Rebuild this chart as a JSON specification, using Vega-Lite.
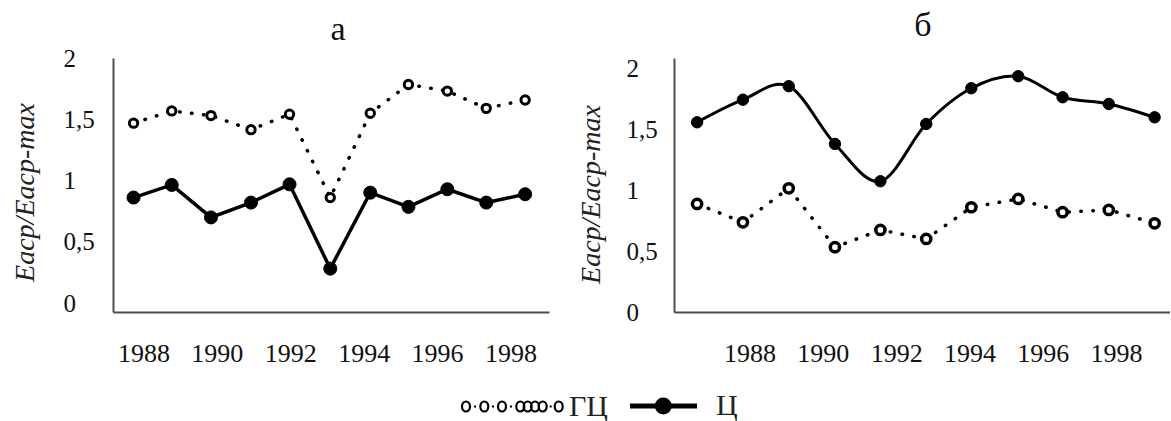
{
  "$schema": "https://vega.github.io/schema/vega-lite/v6.json",
  "padding": {"left": 11, "top": 8, "right": 0, "bottom": 0},
  "background": "white",
  "datasets": {
    "a": [
      {"series": "ГЦ", "year": 1987.73, "value": 1.468},
      {"series": "ГЦ", "year": 1988.77, "value": 1.568},
      {"series": "ГЦ", "year": 1989.84, "value": 1.530},
      {"series": "ГЦ", "year": 1990.93, "value": 1.415},
      {"series": "ГЦ", "year": 1991.98, "value": 1.541},
      {"series": "ГЦ", "year": 1993.09, "value": 0.861},
      {"series": "ГЦ", "year": 1994.18, "value": 1.549},
      {"series": "ГЦ", "year": 1995.22, "value": 1.784},
      {"series": "ГЦ", "year": 1996.28, "value": 1.730},
      {"series": "ГЦ", "year": 1997.34, "value": 1.589},
      {"series": "ГЦ", "year": 1998.40, "value": 1.657},
      {"series": "Ц", "year": 1987.73, "value": 0.861},
      {"series": "Ц", "year": 1988.77, "value": 0.964},
      {"series": "Ц", "year": 1989.84, "value": 0.699},
      {"series": "Ц", "year": 1990.93, "value": 0.820},
      {"series": "Ц", "year": 1991.98, "value": 0.969},
      {"series": "Ц", "year": 1993.09, "value": 0.281},
      {"series": "Ц", "year": 1994.18, "value": 0.901},
      {"series": "Ц", "year": 1995.22, "value": 0.785},
      {"series": "Ц", "year": 1996.28, "value": 0.929},
      {"series": "Ц", "year": 1997.34, "value": 0.820},
      {"series": "Ц", "year": 1998.40, "value": 0.888}
    ],
    "b": [
      {"series": "ГЦ", "year": 1986.57, "value": 0.889},
      {"series": "ГЦ", "year": 1987.82, "value": 0.738},
      {"series": "ГЦ", "year": 1989.07, "value": 1.018},
      {"series": "ГЦ", "year": 1990.33, "value": 0.533},
      {"series": "ГЦ", "year": 1991.57, "value": 0.675},
      {"series": "ГЦ", "year": 1992.82, "value": 0.601},
      {"series": "ГЦ", "year": 1994.05, "value": 0.862},
      {"series": "ГЦ", "year": 1995.33, "value": 0.930},
      {"series": "ГЦ", "year": 1996.54, "value": 0.821},
      {"series": "ГЦ", "year": 1997.80, "value": 0.840},
      {"series": "ГЦ", "year": 1999.05, "value": 0.730},
      {"series": "Ц", "year": 1986.57, "value": 1.561},
      {"series": "Ц", "year": 1987.82, "value": 1.747},
      {"series": "Ц", "year": 1989.07, "value": 1.858},
      {"series": "Ц", "year": 1990.33, "value": 1.383},
      {"series": "Ц", "year": 1991.57, "value": 1.076},
      {"series": "Ц", "year": 1992.82, "value": 1.547},
      {"series": "Ц", "year": 1994.05, "value": 1.841},
      {"series": "Ц", "year": 1995.33, "value": 1.940},
      {"series": "Ц", "year": 1996.54, "value": 1.767},
      {"series": "Ц", "year": 1997.80, "value": 1.712},
      {"series": "Ц", "year": 1999.05, "value": 1.602}
    ]
  },
  "spacing": 28,
  "hconcat": [
    {
      "width": 436,
      "height": 254,
      "title": {"text": "а", "font": "Times New Roman, Liberation Serif, serif", "fontSize": 34, "fontWeight": "normal", "color": "#111", "offset": -1, "dx": 7},
      "data": {"name": "a"},
      "encoding": {
        "x": {"field": "year", "type": "quantitative", "scale": {"domain": [1987.17, 1999.05], "nice": false, "zero": false},
              "axis": {"title": null, "values": [1988, 1990, 1992, 1994, 1996, 1998], "format": "d", "labelFontSize": 26, "labelPadding": 41, "labelBaseline": "middle"}},
        "y": {"field": "value", "type": "quantitative", "scale": {"domain": [-0.073, 2.0], "nice": false, "zero": false},
              "axis": {"title": "Eaср/Eaср-max", "values": [0, 0.5, 1, 1.5, 2], "labelExpr": "replace(toString(datum.value), '.', ',')", "labelAlign": "left", "labelBaseline": "middle", "labelPadding": 50, "labelFontSize": 25, "titlePadding": 24, "titleY": 134}}
      },
      "layer": [
        {"transform": [{"filter": "datum.series === 'ГЦ'"}], "mark": {"type": "line", "stroke": "black", "strokeWidth": 3.5, "strokeDash": [0.5, 11.5], "strokeCap": "round"}},
        {"transform": [{"filter": "datum.series === 'Ц'"}], "mark": {"type": "line", "stroke": "black", "strokeWidth": 3.5}},
        {"transform": [{"filter": "datum.series === 'ГЦ'"}], "mark": {"type": "circle", "size": 70, "stroke": "black", "strokeWidth": 3, "opacity": 1},
         "encoding": {"fill": {"field": "series", "type": "nominal", "scale": {"domain": ["ГЦ", "Ц"], "range": ["white", "black"]},
           "legend": {"orient": "none", "legendX": 424, "legendY": 333, "direction": "horizontal", "title": null, "padding": 0,
             "symbolSize": 4, "symbolStrokeColor": "black", "symbolOpacity": 1, "labelFont": "Times New Roman, Liberation Serif, serif", "labelFontSize": 30, "labelColor": "#222", "labelOffset": 2, "columnPadding": 11,
             "encode": {"symbols": {"update": {
               "shape": {"signal": "datum.value === 'Ц' ? 'M-69,0H-2M-41.7,0a6,6 0 1,0 12,0a6,6 0 1,0 -12,0' : 'M-90,0a4,5 0 1,0 8,0a4,5 0 1,0 -8,0M-71.7,0a4,5 0 1,0 8,0a4,5 0 1,0 -8,0M-54,0a4,5 0 1,0 8,0a4,5 0 1,0 -8,0M-35.7,0a4,5 0 1,0 8,0a4,5 0 1,0 -8,0M-28.3,0a4,5 0 1,0 8,0a4,5 0 1,0 -8,0M-21,0a4,5 0 1,0 8,0a4,5 0 1,0 -8,0M-13.3,0a4,5 0 1,0 8,0a4,5 0 1,0 -8,0M2.7,0a4,5 0 1,0 8,0a4,5 0 1,0 -8,0M-78,0h2M-60,0h2M-42,0h2M-2.3,0h2'"},
               "strokeWidth": {"signal": "datum.value === 'Ц' ? 5 : 2.2"},
               "stroke": {"value": "black"}
             }}}
           }}}},
        {"transform": [{"filter": "datum.series === 'Ц'"}], "mark": {"type": "circle", "size": 170, "stroke": "black", "strokeWidth": 1, "opacity": 1},
         "encoding": {"fill": {"field": "series", "type": "nominal", "scale": {"domain": ["ГЦ", "Ц"], "range": ["white", "black"]}}}}
      ]
    },
    {
      "width": 496,
      "height": 254,
      "title": {"text": "б", "font": "Times New Roman, Liberation Serif, serif", "fontSize": 34, "fontWeight": "normal", "color": "#111", "offset": 14, "dx": 1},
      "data": {"name": "b"},
      "encoding": {
        "x": {"field": "year", "type": "quantitative", "scale": {"domain": [1985.94, 1999.47], "nice": false, "zero": false},
              "axis": {"title": null, "values": [1988, 1990, 1992, 1994, 1996, 1998], "format": "d", "labelFontSize": 26, "labelPadding": 41, "labelBaseline": "middle"}},
        "y": {"field": "value", "type": "quantitative", "scale": {"domain": [0, 2.09], "nice": false, "zero": false},
              "axis": {"title": "Eaср/Eaср-max", "values": [0, 0.5, 1, 1.5, 2], "labelExpr": "replace(toString(datum.value), '.', ',')", "labelAlign": "left", "labelBaseline": "middle", "labelPadding": 48, "labelFontSize": 25, "titlePadding": 21, "titleY": 136}}
      },
      "layer": [
        {"transform": [{"filter": "datum.series === 'ГЦ'"}], "mark": {"type": "line", "stroke": "black", "strokeWidth": 3.5, "strokeDash": [0.5, 11.5], "strokeCap": "round"}},
        {"transform": [{"filter": "datum.series === 'Ц'"}], "mark": {"type": "line", "stroke": "black", "strokeWidth": 3, "interpolate": "cardinal"}},
        {"transform": [{"filter": "datum.series === 'ГЦ'"}], "mark": {"type": "circle", "size": 85, "stroke": "black", "strokeWidth": 3.5, "opacity": 1},
         "encoding": {"fill": {"field": "series", "type": "nominal", "scale": {"domain": ["ГЦ", "Ц"], "range": ["white", "black"]}}}},
        {"transform": [{"filter": "datum.series === 'Ц'"}], "mark": {"type": "circle", "size": 130, "stroke": "black", "strokeWidth": 1, "opacity": 1},
         "encoding": {"fill": {"field": "series", "type": "nominal", "scale": {"domain": ["ГЦ", "Ц"], "range": ["white", "black"]}}}}
      ]
    }
  ],
  "config": {
    "view": {"stroke": null},
    "font": "Times New Roman, Liberation Serif, serif",
    "axis": {"domainColor": "#4d4d4d", "domainWidth": 2, "ticks": false, "tickSize": 0, "grid": false,
             "labelFont": "Times New Roman, Liberation Serif, serif", "labelColor": "#111", "titleFont": "Times New Roman, Liberation Serif, serif", "titleFontStyle": "italic",
             "titleFontWeight": "normal", "titleFontSize": 28, "titleColor": "#222"}
  }
}
